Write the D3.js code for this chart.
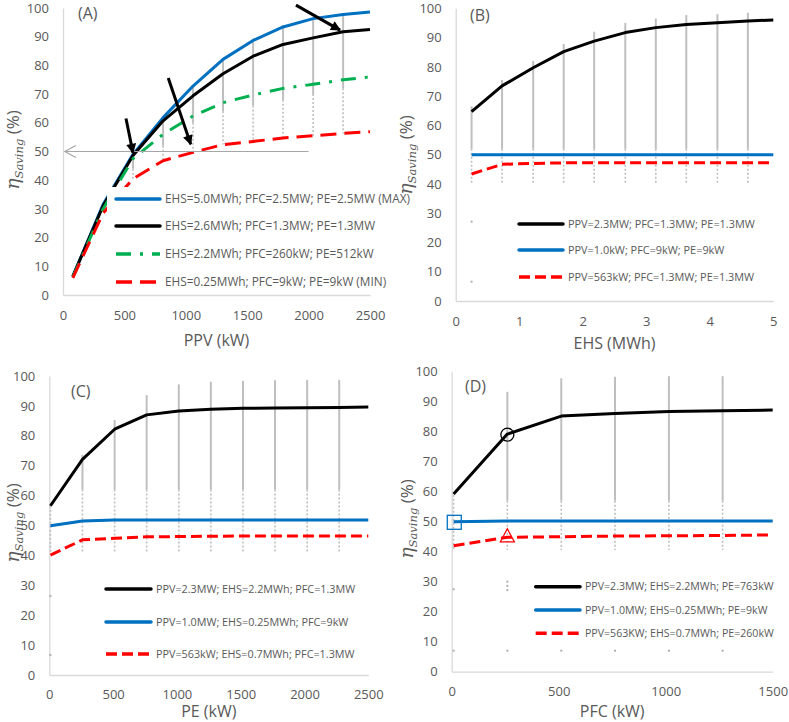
<!DOCTYPE html>
<html><head><meta charset="utf-8">
<script src="https://cdn.jsdelivr.net/npm/d3@7"></script>
<style>
body{margin:0;background:#fff}
svg text{font-family:'Open Sans',sans-serif;fill:#595959}
</style>
</head><body>
<svg id="c" width="789" height="722"></svg>
<script>
// ---------------- DATA ----------------
const yTickVals = [0,10,20,30,40,50,60,70,80,90,100];

// Panel A : x = PPV (kW)
const aTicks = [0,500,1000,1500,2000,2500];
const aPPV   = [80,326,570,815,1059,1303,1548,1792,2037,2281,2500];
const aMax   = [6.5,31.5,49.0,61.8,72.8,82.1,88.7,93.4,96.3,97.7,98.6];
const aMid   = [6.5,31.0,48.6,60.7,69.4,77.1,83.2,87.3,89.6,91.7,92.5];
const aGreen = [6.2,30.0,47.5,56.0,62.4,67.0,69.7,72.0,73.4,75.0,76.0];
const aMin   = [6.0,28.5,40.5,46.8,49.7,52.4,53.5,54.7,55.5,56.3,56.9];
const aLegend = ["EHS=5.0MWh; PFC=2.5MW; PE=2.5MW (MAX)","EHS=2.6MWh; PFC=1.3MW; PE=1.3MW","EHS=2.2MWh; PFC=260kW; PE=512kW","EHS=0.25MWh; PFC=9kW; PE=9kW (MIN)"];
const aGrayX      = [570,815,1059,1303,1548,1792,2037,2281];
const aGrayTop    = [48.0,62.0,73.0,82.5,89.0,94.0,96.8,98.0];
const aGraySolid  = [44.0,52.0,60.0,64.0,66.0,68.0,70.0,72.0];
const aGrayBottom = [40.5,46.8,49.7,52.4,53.5,54.7,55.5,56.3];

// Panel B : x = EHS (MWh)
const bTicks = [0,1,2,3,4,5];
const bEHS   = [0.25,0.73,1.22,1.70,2.18,2.67,3.15,3.63,4.12,4.60,5.0];
const bBlack = [64.7,73.5,79.7,85.2,88.8,91.7,93.4,94.5,95.1,95.7,96.0];
const bBlue  = [50,50,50,50,50,50,50,50,50,50,50];
const bRed   = [43.4,46.7,47.0,47.2,47.2,47.2,47.2,47.2,47.2,47.2,47.2];
const bLegend = ["PPV=2.3MW; PFC=1.3MW; PE=1.3MW","PPV=1.0kW; PFC=9kW; PE=9kW","PPV=563kW; PFC=1.3MW; PE=1.3MW"];
const bGrayX      = [0.25,0.73,1.22,1.70,2.18,2.67,3.15,3.63,4.12,4.60];
const bGrayTop    = [66.5,75.5,82.0,87.8,92.0,95.0,96.5,97.7,98.0,98.5];
const bGraySolid  = [52,52,52,52,52,52,52,52,52,52];
const bGrayBottom = [40,40,40,40,40,40,40,40,40,40];
const bGrayDots   = [[0.25,27.1],[0.25,6.6]];

// Panel C : x = PE (kW)
const cTicks = [0,500,1000,1500,2000,2500];
const cPE    = [9,260,512,763,1015,1266,1518,1769,2021,2272,2500];
const cBlack = [56.6,72.1,82.2,87.0,88.3,88.9,89.2,89.3,89.4,89.5,89.6];
const cBlue  = [49.9,51.5,51.8,51.8,51.8,51.8,51.8,51.8,51.8,51.8,51.8];
const cRed   = [40.1,45.2,45.7,46.2,46.3,46.4,46.5,46.5,46.5,46.5,46.5];
const cLegend = ["PPV=2.3MW; EHS=2.2MWh; PFC=1.3MW","PPV=1.0MW; EHS=0.25MWh; PFC=9kW","PPV=563kW; EHS=0.7MWh; PFC=1.3MW"];
const cGrayX      = [9,260,512,763,1015,1266,1518,1769,2021,2272];
const cGrayTop    = [56.6,73.6,85.3,93.6,97.2,98.1,98.4,98.6,98.7,98.7];
const cGraySolid  = [56.6,62,62,62,62,62,62,62,62,62];
const cGrayBottom = [41,41,41,41,41,41,41,41,41,41];
const cGrayDots   = [[9,26.4],[9,6.7]];

// Panel D : x = PFC (kW)
const dTicks = [0,500,1000,1500];
const dPFC   = [9,260,512,763,1015,1266,1500];
const dBlack = [59.2,79.2,85.2,86.1,86.7,87.0,87.2];
const dBlue  = [50.0,50.2,50.2,50.2,50.2,50.2,50.2];
const dRed   = [42.0,44.8,45.0,45.2,45.3,45.4,45.6];
const dLegend = ["PPV=2.3MW; EHS=2.2MWh; PE=763kW","PPV=1.0MW; EHS=0.25MWh; PE=9kW","PPV=563KW; EHS=0.7MWh; PE=260kW"];
const dGrayX      = [9,260,512,763,1015,1266];
const dGrayTop    = [59.0,93.3,97.8,98.3,98.5,98.5];
const dGraySolid  = [59.0,57,57,57,57,57];
const dGrayBottom = [40.6,40.6,40.6,40.6,40.6,40.6];
const dGrayDots   = [[9,27.5],[9,7],[260,27.2],[260,28.6],[260,30],[260,7],[512,7],[763,7],[1015,7],[1266,7]];
// highlighted points in D
const dCircle   = [260,79.0];
const dSquare   = [12,49.8];
const dTriangle = [260,45.3];

// Annotation arrows in A (data coords: [fromX, fromY, toX, toY])
const aArrows = [[513,61.5,570,49.5],[857,75.6,1040,52.5],[1897,101,2256,92.3]];
const aGrayArrow = [2000,50,15,50];

// ---------------- STYLES ----------------
const C = {blue:'#0070C0', black:'#000000', green:'#00B050', red:'#FF0000', gray:'#BFBFBF', axis:'#D9D9D9'};

const svg = d3.select('#c');
const defs = svg.append('defs');
defs.append('marker').attr('id','ah').attr('viewBox','0 0 10 10').attr('refX',9).attr('refY',5)
  .attr('markerUnits','userSpaceOnUse').attr('markerWidth',11).attr('markerHeight',10).attr('orient','auto')
  .append('path').attr('d','M0,0L10,5L0,10Z').attr('fill','#000');

function panel(cfg){
  const x = d3.scaleLinear().domain(cfg.xDomain).range([cfg.x0,cfg.x1]);
  const y = d3.scaleLinear().domain([0,100]).range([cfg.yBot,cfg.yTop]);
  const g = svg.append('g');

  // axes
  const ax = g.append('g').attr('transform',`translate(0,${cfg.yBot})`)
    .call(d3.axisBottom(x).tickValues(cfg.xTicks).tickSize(0).tickSizeOuter(0).tickPadding(cfg.xPad||16).tickFormat(d3.format('')));
  const ay = g.append('g').attr('transform',`translate(${cfg.x0},0)`)
    .call(d3.axisLeft(y).tickValues(yTickVals).tickSize(0).tickSizeOuter(0).tickPadding(14));
  [ax,ay].forEach(a=>{
    a.select('.domain').attr('stroke',C.axis).attr('stroke-width',1.3);
    a.selectAll('text').attr('font-size',13).attr('fill','#595959').attr('font-family',"'Open Sans',sans-serif");
  });

  // gray scatter columns
  const cols = cfg.grayX.map((v,i)=>({x:v,top:cfg.grayTop[i],solid:cfg.graySolid[i],bot:cfg.grayBottom[i]}));
  g.selectAll('.gs').data(cols).join('line').attr('class','gs')
    .attr('x1',d=>x(d.x)).attr('x2',d=>x(d.x)).attr('y1',d=>y(d.top)).attr('y2',d=>y(d.solid))
    .attr('stroke',C.gray).attr('stroke-width',2);
  g.selectAll('.gd').data(cols).join('line').attr('class','gd')
    .attr('x1',d=>x(d.x)).attr('x2',d=>x(d.x)).attr('y1',d=>y(d.solid)).attr('y2',d=>y(d.bot))
    .attr('stroke',C.gray).attr('stroke-width',1.6).attr('stroke-dasharray','2,2');
  g.selectAll('.gp').data(cfg.grayDots||[]).join('rect').attr('class','gp')
    .attr('x',d=>x(d[0])-1).attr('y',d=>y(d[1])-1).attr('width',2).attr('height',2).attr('fill','#b0b0b0');

  // series
  const line = d3.line().x(d=>x(d[0])).y(d=>y(d[1]));
  cfg.series.forEach(s=>{
    g.append('path').datum(cfg.xs.map((v,i)=>[v,s.values[i]]))
      .attr('d',line).attr('fill','none').attr('stroke',s.color).attr('stroke-width',3)
      .attr('stroke-dasharray',s.dash||null).attr('stroke-linejoin','round');
  });

  if(cfg.extra) cfg.extra(g,x,y);

  // legend
  const L = cfg.legend;
  if(L.box) g.append('rect').attr('x',L.box[0]).attr('y',L.box[1]).attr('width',L.box[2]).attr('height',L.box[3]).attr('fill','#fff');
  cfg.legendItems.forEach((it,i)=>{
    const yy = L.rows[i];
    g.append('line').attr('x1',L.lx0).attr('x2',L.lx1).attr('y1',yy).attr('y2',yy)
      .attr('stroke',it.color).attr('stroke-width',3.5).attr('stroke-dasharray',it.dash||null)
      .attr('stroke-linecap',it.dash?'butt':'round');
    g.append('text').attr('x',L.tx).attr('y',yy).attr('dy','0.35em').attr('font-size',L.fs).text(it.label);
  });

  // panel label
  g.append('text').attr('x',cfg.labelPos[0]).attr('y',cfg.labelPos[1]).attr('font-size',16).text(cfg.label);
  // x title
  g.append('text').attr('x',(cfg.x0+cfg.x1)/2).attr('y',cfg.xTitleY).attr('text-anchor','middle').attr('font-size',16).text(cfg.xTitle);
  // y title
  const yt = g.append('text').attr('transform',`translate(${cfg.yTitle[0]},${cfg.yTitle[1]}) rotate(-90)`).attr('text-anchor','middle');
  yt.append('tspan').attr('font-family','DejaVu Serif, serif').attr('font-style','italic').attr('font-size',19).text('η');
  yt.append('tspan').attr('font-family','DejaVu Serif, serif').attr('font-style','italic').attr('font-size',11.5).attr('dy',4).text('Saving');
  yt.append('tspan').attr('font-size',17).attr('dy',-4).text(' (%)');
}

// Panel A
panel({
  x0:63,x1:370,yTop:8,yBot:295,xDomain:[0,2500],xTicks:aTicks,xTitle:'PPV (kW)',xTitleY:346,
  label:'(A)',labelPos:[78,19],yTitle:[19,150],
  xs:aPPV,
  series:[
    {values:aMax,color:C.blue},
    {values:aMid,color:C.black},
    {values:aGreen,color:C.green,dash:'15,9,3,9'},
    {values:aMin,color:C.red,dash:'16,8'}
  ],
  grayX:aGrayX,grayTop:aGrayTop,graySolid:aGraySolid,grayBottom:aGrayBottom,
  extra:(g,x,y)=>{
    const ga = aGrayArrow;
    g.append('line').attr('x1',x(ga[0])).attr('y1',y(ga[1])).attr('x2',x(ga[2])).attr('y2',y(ga[3]))
      .attr('stroke','#a6a6a6').attr('stroke-width',1.2);
    g.append('path').attr('d',`M${x(ga[2])+11},${y(ga[3])-6}L${x(ga[2])},${y(ga[3])}L${x(ga[2])+11},${y(ga[3])+6}`)
      .attr('fill','none').attr('stroke','#a6a6a6').attr('stroke-width',1.2);
    aArrows.forEach(a=>{
      g.append('line').attr('x1',x(a[0])).attr('y1',y(a[1])).attr('x2',x(a[2])).attr('y2',y(a[3]))
        .attr('stroke','#000').attr('stroke-width',3).attr('marker-end','url(#ah)');
    });
  },
  legend:{box:[107,187,266,107],rows:[199,226,254,282],lx0:116,lx1:160,tx:165,fs:11.8},
  legendItems:[
    {label:aLegend[0],color:C.blue},{label:aLegend[1],color:C.black},
    {label:aLegend[2],color:C.green,dash:'15,9,3,9'},{label:aLegend[3],color:C.red,dash:'16,8'}
  ]
});

// Panel B
panel({
  x0:455.7,x1:773.3,yTop:8.3,yBot:301,xDomain:[0,5],xTicks:bTicks,xTitle:'EHS (MWh)',xTitleY:349,
  label:'(B)',labelPos:[470,21],yTitle:[412,155],
  xs:bEHS,
  series:[
    {values:bBlack,color:C.black},
    {values:bBlue,color:C.blue},
    {values:bRed,color:C.red,dash:'11,5'}
  ],
  grayX:bGrayX,grayTop:bGrayTop,graySolid:bGraySolid,grayBottom:bGrayBottom,grayDots:bGrayDots,
  legend:{rows:[224,250,277],lx0:519,lx1:563,tx:568,fs:10.9},
  legendItems:[{label:bLegend[0],color:C.black},{label:bLegend[1],color:C.blue},{label:bLegend[2],color:C.red,dash:'11,5'}]
});

// Panel C
panel({
  x0:49.3,x1:368.3,yTop:376,yBot:675,xDomain:[0,2500],xTicks:cTicks,xTitle:'PE (kW)',xTitleY:717,xPad:15,
  label:'(C)',labelPos:[71,397],yTitle:[19,523],
  xs:cPE,
  series:[
    {values:cBlack,color:C.black},
    {values:cBlue,color:C.blue},
    {values:cRed,color:C.red,dash:'11,5'}
  ],
  grayX:cGrayX,grayTop:cGrayTop,graySolid:cGraySolid,grayBottom:cGrayBottom,grayDots:cGrayDots,
  legend:{rows:[589,622,654],lx0:106,lx1:151,tx:156,fs:10.8},
  legendItems:[{label:cLegend[0],color:C.black},{label:cLegend[1],color:C.blue},{label:cLegend[2],color:C.red,dash:'11,5'}]
});

// Panel D
panel({
  x0:451.7,x1:772.7,yTop:371.7,yBot:671.7,xDomain:[0,1500],xTicks:dTicks,xTitle:'PFC (kW)',xTitleY:717,xPad:15,
  label:'(D)',labelPos:[465,392],yTitle:[413,519],
  xs:dPFC,
  series:[
    {values:dBlack,color:C.black},
    {values:dBlue,color:C.blue},
    {values:dRed,color:C.red,dash:'11,5'}
  ],
  grayX:dGrayX,grayTop:dGrayTop,graySolid:dGraySolid,grayBottom:dGrayBottom,grayDots:dGrayDots,
  extra:(g,x,y)=>{
    g.append('circle').attr('cx',x(dCircle[0])).attr('cy',y(dCircle[1])).attr('r',6.5)
      .attr('fill','none').attr('stroke','#000').attr('stroke-width',1.3);
    g.append('rect').attr('x',x(dSquare[0])-7).attr('y',y(dSquare[1])-7).attr('width',14).attr('height',14)
      .attr('fill','none').attr('stroke',C.blue).attr('stroke-width',1.3);
    const tx=x(dTriangle[0]), ty=y(dTriangle[1]);
    g.append('path').attr('d',`M${tx},${ty-7}L${tx+7},${ty+6}L${tx-7},${ty+6}Z`)
      .attr('fill','none').attr('stroke',C.red).attr('stroke-width',1.3);
  },
  legend:{rows:[586.7,610,633.3],lx0:535.7,lx1:580,tx:585,fs:10.6},
  legendItems:[{label:dLegend[0],color:C.black},{label:dLegend[1],color:C.blue},{label:dLegend[2],color:C.red,dash:'11,5'}]
});
</script>
</body></html>
